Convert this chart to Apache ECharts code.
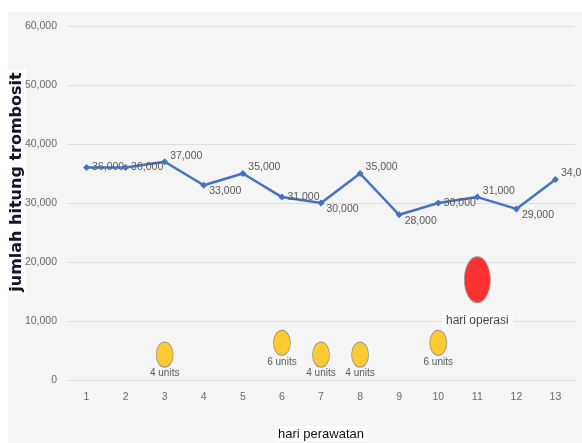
<!DOCTYPE html>
<html>
<head>
<meta charset="utf-8">
<script src="https://cdn.jsdelivr.net/npm/echarts@6/dist/echarts.min.js"></script>
<style>
  body { margin: 0; background: #ffffff; }
  #chart { position: absolute; left: 8px; top: 12px; width: 574px; height: 431px; }
</style>
</head>
<body>
<div id="chart"></div>
<script>
// hari perawatan
const days = ['1', '2', '3', '4', '5', '6', '7', '8', '9', '10', '11', '12', '13']
// jumlah trombosit
const platelets = [36000, 36000, 37000, 33000, 35000, 31000, 30000, 35000, 28000, 30000, 31000, 29000, 34000]
// transfusi (hari, tinggi di grafik, jumlah unit)
const transfusionDays = ['3', '6', '7', '8', '10']
const transfusionLevel = [4300, 6300, 4300, 4300, 6300]
const transfusionUnits = [4, 6, 4, 4, 6]
// hari operasi
const operationDay = '11'
const operationLevel = 17000

const font = "'Liberation Sans', sans-serif"

// label naik kalau puncak, turun kalau lembah
const lineData = platelets.map((v, i) => {
  const prev = i > 0 ? platelets[i - 1] : v
  const next = i < platelets.length - 1 ? platelets[i + 1] : v
  let dy = 0
  if (v > prev && v >= next) dy = -6
  else if (v < prev && v <= next) dy = 6
  return { value: v, label: { offset: [0, dy] } }
})

const chart = echarts.init(document.getElementById('chart'))
chart.setOption({
  backgroundColor: '#f5f5f5',
  animation: false,
  grid: { left: 59, right: 7, top: 14, bottom: 63, outerBoundsMode: 'none', containLabel: false },
  // judul sumbu y, agak naik dari tengah seperti aslinya
  graphic: [{
    type: 'text',
    x: 9,
    y: 170,
    rotation: Math.PI / 2,
    style: {
      text: 'jumlah hitung trombosit',
      align: 'center',
      verticalAlign: 'middle',
      fill: '#14142b',
      font: "bold 16px 'DejaVu Sans', sans-serif",
      backgroundColor: '#ffffff',
      padding: [1, 3, 1, 3]
    }
  }],
  xAxis: {
    type: 'category',
    data: days,
    boundaryGap: true,
    axisLine: { show: false },
    axisTick: { show: false },
    axisLabel: { color: '#6b6b6b', fontFamily: font, fontSize: 10.5, margin: 12 },
    name: 'hari perawatan',
    nameLocation: 'middle',
    nameMoveOverlap: false,
    nameGap: 46,
    nameTextStyle: {
      color: '#111', fontSize: 13, fontFamily: font,
      backgroundColor: '#ffffff', padding: [2, 3, 0, 3]
    }
  },
  yAxis: {
    type: 'value',
    min: 0,
    max: 60000,
    interval: 10000,
    axisLine: { show: false },
    axisTick: { show: false },
    splitLine: { lineStyle: { color: '#dedede', width: 1 } },
    axisLabel: {
      color: '#6b6b6b', fontFamily: font, fontSize: 10.5, margin: 10,
      formatter: v => v.toLocaleString('en-US')
    }
  },
  series: [
    {
      type: 'line',
      data: lineData,
      symbol: 'diamond',
      symbolSize: 7,
      lineStyle: { color: '#4472c4', width: 2.5 },
      itemStyle: { color: '#4472c4' },
      label: {
        show: true,
        position: 'right',
        distance: 2,
        color: '#595959',
        fontFamily: font,
        fontSize: 10.5,
        formatter: p => p.value.toLocaleString('en-US')
      },
      z: 3
    },
    {
      type: 'scatter',
      data: transfusionDays.map((d, i) => [d, transfusionLevel[i], transfusionUnits[i]]),
      symbol: 'circle',
      symbolSize: [17, 25],
      itemStyle: { color: '#ffc000', borderColor: '#8a8a8a', borderWidth: 1 },
      label: {
        show: true,
        position: 'bottom',
        distance: 1,
        color: '#333',
        fontFamily: font,
        fontSize: 10,
        formatter: p => p.value[2] + ' units'
      },
      z: 4
    },
    {
      type: 'scatter',
      data: [[operationDay, operationLevel]],
      symbol: 'circle',
      symbolSize: [26, 46],
      itemStyle: { color: '#ff0000', borderColor: '#999', borderWidth: 1 },
      label: {
        show: true,
        position: 'bottom',
        distance: 9,
        color: '#111',
        fontFamily: font,
        fontSize: 12,
        backgroundColor: '#ffffff',
        padding: [2, 4, 2, 4],
        formatter: 'hari operasi'
      },
      z: 4
    }
  ]
})
</script>
</body>
</html>
